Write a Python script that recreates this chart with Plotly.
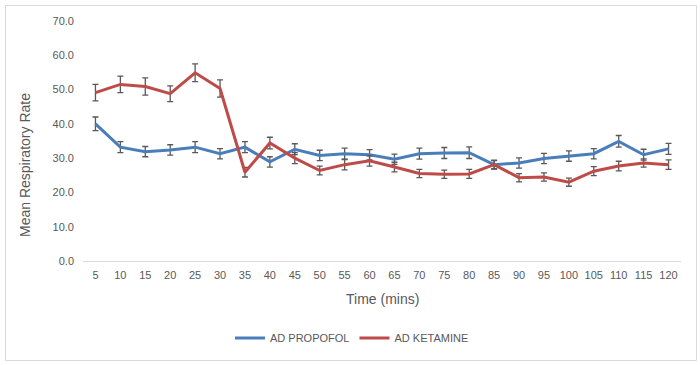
import plotly.graph_objects as go

times = [5, 10, 15, 20, 25, 30, 35, 40, 45, 50, 55, 60, 65, 70, 75, 80, 85, 90, 95, 100, 105, 110, 115, 120]
time_labels = [str(t) for t in times]

propofol = [40.0, 33.2, 31.9, 32.4, 33.2, 31.3, 33.2, 28.9, 32.6, 30.8, 31.3, 31.0, 29.7, 31.3, 31.5, 31.6,
            28.1, 28.6, 29.9, 30.6, 31.3, 34.9, 31.0, 32.7]
propofol_err = [2.0, 1.6, 1.5, 1.5, 1.6, 1.5, 1.6, 1.5, 1.6, 1.5, 1.6, 1.5, 1.5, 1.6, 1.6, 1.7,
                1.3, 1.5, 1.5, 1.5, 1.5, 1.7, 1.6, 1.6]
ketamine = [49.1, 51.5, 50.9, 48.8, 54.9, 50.3, 25.9, 34.4, 30.0, 26.4, 28.1, 29.2, 27.4, 25.5, 25.3, 25.4,
            28.1, 24.3, 24.5, 23.0, 26.2, 27.7, 28.6, 28.1]
ketamine_err = [2.4, 2.4, 2.5, 2.3, 2.6, 2.5, 1.4, 1.7, 1.6, 1.3, 1.5, 1.5, 1.4, 1.2, 1.2, 1.3,
                1.2, 1.2, 1.2, 1.2, 1.3, 1.4, 1.2, 1.4]

FONT = "Liberation Sans"
GREY = "#595959"

fig = go.Figure()
fig.add_trace(go.Scatter(
    x=time_labels, y=propofol, name="AD PROPOFOL", mode="lines",
    line=dict(color="#4a7ebb", width=3),
    error_y=dict(type="data", array=propofol_err, visible=True, color=GREY, thickness=1.3, width=3),
))
fig.add_trace(go.Scatter(
    x=time_labels, y=ketamine, name="AD KETAMINE", mode="lines",
    line=dict(color="#be4b48", width=3),
    error_y=dict(type="data", array=ketamine_err, visible=True, color=GREY, thickness=1.3, width=3),
))

L, R, T, B = 83, 19, 21, 104
W, H = 700, 365
pw, ph = W - L - R, H - T - B

def px_x(px):
    return (px - L) / pw

def px_y(py):
    return (H - B - py) / ph

fig.update_layout(
    width=W, height=H,
    margin=dict(l=L, r=R, t=T, b=B, autoexpand=False),
    paper_bgcolor="white", plot_bgcolor="white",
    font=dict(family=FONT, color=GREY, size=11),
    showlegend=True,
    legend=dict(orientation="h", x=px_x(352), xanchor="center", y=px_y(338), yanchor="middle",
                font=dict(family=FONT, size=11, color=GREY), itemwidth=30,
                bgcolor="rgba(0,0,0,0)"),
    xaxis=dict(type="category", categoryorder="array", categoryarray=time_labels,
               range=[-0.5, len(time_labels) - 0.5],
               showgrid=False, zeroline=False, showline=True, linecolor="#d9d9d9", linewidth=1,
               ticks="", tickfont=dict(size=11, color=GREY), automargin=False, ticklabelstandoff=4),
    yaxis=dict(range=[0, 70], dtick=10, tickformat=".1f", showgrid=False, zeroline=False,
               showline=False, ticks="", tickfont=dict(size=11, color=GREY), automargin=False,
               ticklabelstandoff=8),
    annotations=[
        dict(text="Time (mins)", xref="paper", yref="paper", x=0.5, y=px_y(299),
             xanchor="center", yanchor="middle", showarrow=False,
             font=dict(size=14, color=GREY, family=FONT)),
        dict(text="Mean Respiratory Rate", xref="paper", yref="paper", x=px_x(25), y=px_y(165),
             xanchor="center", yanchor="middle", showarrow=False, textangle=-90,
             font=dict(size=14, color=GREY, family=FONT)),
    ],
    shapes=[dict(type="rect", xref="paper", yref="paper",
                 x0=px_x(5.5), x1=px_x(696.5), y0=px_y(360.5), y1=px_y(5.5),
                 line=dict(color="#d9d9d9", width=1), fillcolor="rgba(0,0,0,0)", layer="below")],
)

fig.write_html("out.html", config={"displayModeBar": False},
               post_script="document.body.style.margin='0';")
